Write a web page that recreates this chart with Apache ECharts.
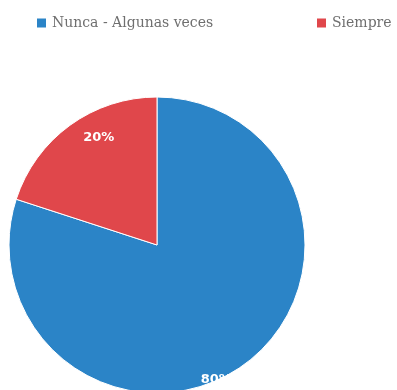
<!DOCTYPE html>
<html><head><meta charset="utf-8">
<script src="https://cdn.jsdelivr.net/npm/echarts@6/dist/echarts.min.js"></script>
<style>html,body{margin:0;padding:0;background:#fff}#c{width:397px;height:390px}</style>
</head><body><div id="c"></div>
<script>
const categories = ["Nunca - Algunas veces", "Siempre"];
const values = [80, 20];
const colors = ["#2b84c7", "#e0474b"];

const chart = echarts.init(document.getElementById('c'));
const legendCommon = {
  top: 16, padding: 0, itemWidth: 11, itemHeight: 11, icon: 'rect',
  textStyle: {fontFamily: 'DejaVu Serif', fontSize: 14, color: '#6f6f6f'}
};
chart.setOption({
  animation: false,
  color: colors,
  legend: [
    Object.assign({left: 35, data: [categories[0]]}, legendCommon),
    Object.assign({left: 315, data: [categories[1]]}, legendCommon)
  ],
  series: [{
    type: 'pie',
    center: [157, 245],
    radius: 148,
    startAngle: 90,
    clockwise: true,
    itemStyle: {borderColor: '#fff', borderWidth: 1},
    label: {
      position: 'inside',
      formatter: '{d}%',
      color: '#fff',
      fontWeight: 'bold',
      fontFamily: 'DejaVu Sans',
      fontSize: 13
    },
    labelLine: {show: false},
    labelLayout: function (p) {
      return p.dataIndex === 0 ? {dx: 14, dy: 72} : {dx: -13, dy: -45};
    },
    data: categories.map((n, i) => ({name: n, value: values[i]}))
  }]
});
</script></body></html>
